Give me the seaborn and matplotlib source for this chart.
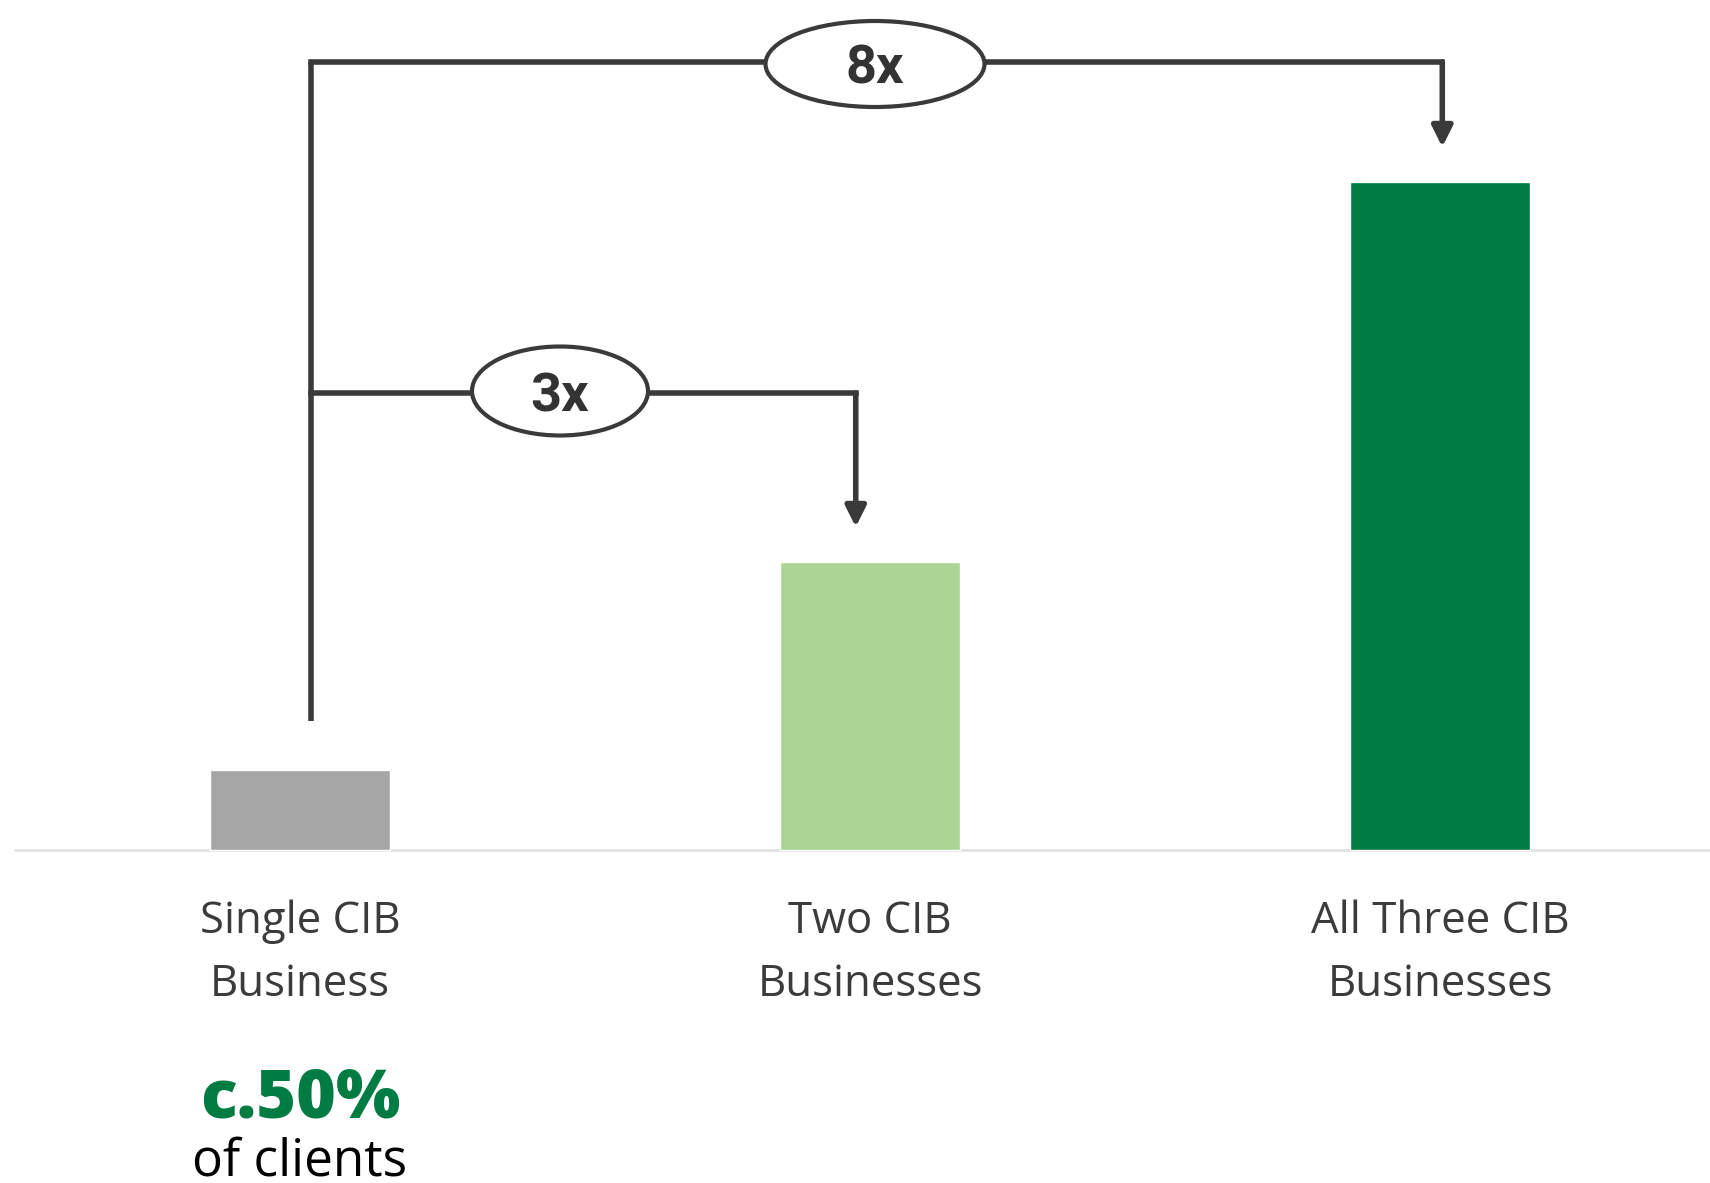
import matplotlib
matplotlib.use('Agg')
import matplotlib.pyplot as plt
import seaborn as sns
from matplotlib.patches import Ellipse

# chart data
categories = ['Single CIB\nBusiness', 'Two CIB\nBusinesses', 'All Three CIB\nBusinesses']
values = [1.0, 3.6, 8.35]
bar_colors = ['#a6a6a6', '#acd495', '#007b41']
multiples = ['3x', '8x']
share_value = 'c.50%'
share_text = 'of clients'

dark = '#3a3a3a'
label_font = ['Open Sans', 'DejaVu Sans']

sns.set_theme(style='white')
plt.rcParams['font.family'] = label_font

fig = plt.figure(figsize=(17.1, 11.83), dpi=100)
ax = fig.add_axes([0, 0, 1, 1])

sns.barplot(x=list(range(len(categories))), y=values, hue=list(range(len(categories))),
            palette=bar_colors, legend=False, width=0.316, saturation=1,
            native_scale=True, ax=ax, zorder=3)

# pixel-like layout: 570 px between bars, 80 px per value unit
ax.set_xlim(-300 / 570, 1410 / 570)
ax.set_ylim(-333 / 80, 850 / 80)
ax.axis('off')

# baseline
ax.axhline(0, xmin=15 / 1710, xmax=1, color='#e2e2e2', lw=2, zorder=2)

# category labels
for i, cat in enumerate(categories):
    line1, line2 = cat.split('\n')
    ax.text(i, -83 / 80, line1, ha='center', va='baseline', fontsize=31.5,
            color='#3b3b3b', family=label_font)
    ax.text(i, -146 / 80, line2, ha='center', va='baseline', fontsize=31.5,
            color='#3b3b3b', family=label_font)

# share of clients under first bar
ax.text(0, -268 / 80, share_value, ha='center', va='baseline', fontsize=49,
        fontweight='heavy', color='#007b41', family=label_font)
ax.text(0, -326 / 80, share_text, ha='center', va='baseline', fontsize=37,
        color='black', family=label_font)

# brackets
gap = 35 / 80
x_stem = 0.019
y_top = 788 / 80
y_mid = 457 / 80
lw = 4

ax.plot([x_stem, x_stem], [values[0] + 49 / 80, y_top], color=dark, lw=lw,
        solid_capstyle='butt', zorder=4)

arrow_x = [1 - 0.025, 2 + 0.004]
levels = [y_mid, y_top]
for i, (ax_x, lvl) in enumerate(zip(arrow_x, levels)):
    ax.plot([x_stem, ax_x], [lvl, lvl], color=dark, lw=lw, solid_capstyle='projecting',
            zorder=4)
    ax.annotate('', xy=(ax_x, values[i + 1] + gap), xytext=(ax_x, lvl),
                arrowprops=dict(arrowstyle='-|>,head_length=0.62,head_width=0.31',
                                mutation_scale=20, color=dark, lw=lw,
                                shrinkA=0, shrinkB=0),
                zorder=4)

ellipse_specs = [((560 - 300) / 570, 391, 176, 89), ((875 - 300) / 570, 64, 219, 86)]
for label, (ex, ey, ew, eh) in zip(multiples, ellipse_specs):
    yc = (850 - ey) / 80
    ax.add_patch(Ellipse((ex, yc), ew / 570, eh / 80, facecolor='white',
                         edgecolor=dark, lw=3, zorder=5))
    ax.text(ex, yc, label, ha='center', va='center_baseline', fontsize=39,
            fontweight='bold', color='#333333', family=['Roboto', 'DejaVu Sans'], zorder=6)

fig.savefig('out.png', dpi=100, facecolor='white')
